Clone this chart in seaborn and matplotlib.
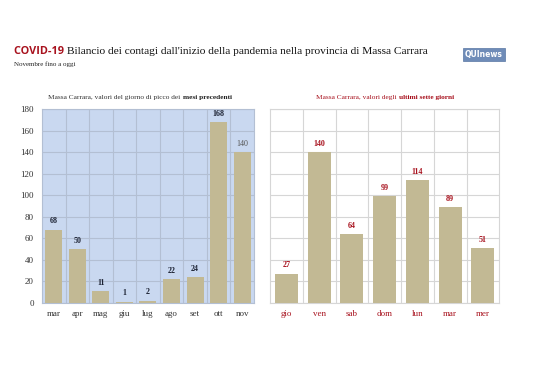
import matplotlib
matplotlib.use("Agg")
import matplotlib.pyplot as plt
import seaborn as sns
import pandas as pd

# data
months = ["mar", "apr", "mag", "giu", "lug", "ago", "set", "ott", "nov"]
month_peaks = [68, 50, 11, 1, 2, 22, 24, 168, 140]
days = ["gio", "ven", "sab", "dom", "lun", "mar", "mer"]
day_values = [27, 140, 64, 99, 114, 89, 51]

sns.set_theme(style="white")
plt.rcParams["font.family"] = ["Liberation Serif", "DejaVu Serif"]

BAR = "#c2b994"
RED = "#a8121e"
NAVY = "#1c2233"

fig = plt.figure(figsize=(5.38, 3.8), dpi=100)
ax1 = fig.add_axes([0.078, 0.203, 0.394, 0.510])
ax2 = fig.add_axes([0.502, 0.203, 0.426, 0.510])

df1 = pd.DataFrame({"mese": months, "casi": month_peaks})
df2 = pd.DataFrame({"giorno": days, "casi": day_values})

sns.barplot(data=df1, x="mese", y="casi", color=BAR, width=0.72, saturation=1,
            linewidth=0, ax=ax1, zorder=3)
sns.barplot(data=df2, x="giorno", y="casi", color=BAR, width=0.70, saturation=1,
            linewidth=0, ax=ax2, zorder=3)

for ax, n, bg, gc in [(ax1, len(months), "#c9d8f0", "#b3bfd3"), (ax2, len(days), "white", "#d6d6d6")]:
    ax.set_facecolor(bg)
    ax.set_ylim(0, 180)
    ax.set_xlim(-0.5, n - 0.5)
    ax.set_yticks(range(0, 181, 20))
    ax.set_xticks([i + 0.5 for i in range(n - 1)], minor=True)
    ax.grid(axis="y", which="major", color=gc, lw=0.8, zorder=0)
    ax.grid(axis="x", which="minor", color=gc, lw=0.8, zorder=0)
    ax.set_xlabel("")
    ax.set_ylabel("")
    ax.tick_params(axis="both", which="both", length=0, labelsize=6.5, pad=5)
    for s in ax.spines.values():
        s.set_color(gc)
        s.set_linewidth(0.8)

ax1.tick_params(axis="y", labelsize=6.5, pad=6, colors="#333333")
ax1.tick_params(axis="x", colors="#333333")
ax2.tick_params(axis="y", labelleft=False)
ax2.tick_params(axis="x", colors=RED)

for i, v in enumerate(month_peaks):
    last = i == len(month_peaks) - 1
    ax1.text(i, v + 4, str(v), ha="center", va="bottom", fontsize=5.8,
             fontweight="normal" if last else "bold", color="#555555" if last else NAVY)
for i, v in enumerate(day_values):
    ax2.text(i, v + 4, str(v), ha="center", va="bottom", fontsize=5.8, fontweight="bold", color=RED)

fig.canvas.draw()
renderer = fig.canvas.get_renderer()


def run_text(x, y, parts, ha="left"):
    # draw consecutive text pieces with different styles on one line
    items = []
    for txt, kw in parts:
        t = fig.text(x, y, txt, va="baseline", **kw)
        items.append(t)
    widths = []
    for t in items:
        bb = t.get_window_extent(renderer)
        widths.append(bb.width / fig.bbox.width)
    total = sum(widths)
    start = x - total / 2 if ha == "center" else x
    for t, w in zip(items, widths):
        t.set_x(start)
        start += w


run_text(14 / 538, 1 - 54 / 380, [
    ("COVID-19 ", dict(fontsize=7.8, fontweight="bold", color=RED, family=["Open Sans", "DejaVu Sans"])),
    ("Bilancio dei contagi dall'inizio della pandemia nella provincia di Massa Carrara",
     dict(fontsize=8.2, color="#111111")),
])
fig.text(14 / 538, 1 - 66 / 380, "Novembre fino a oggi", fontsize=5, color="#222222", va="baseline")

run_text(140 / 538, 1 - 99 / 380, [
    ("Massa Carrara, valori del giorno di picco dei ", dict(fontsize=5.3, color="#333333")),
    ("mesi precedenti", dict(fontsize=5.3, fontweight="bold", color="#222222")),
], ha="center")
run_text(385 / 538, 1 - 99 / 380, [
    ("Massa Carrara, valori degli ", dict(fontsize=5.3, color=RED)),
    ("ultimi sette giorni", dict(fontsize=5.3, fontweight="bold", color=RED)),
], ha="center")

# small logo box
fig.text(484 / 538, 1 - 57 / 380, "QUInews", ha="center", va="baseline", fontsize=5.5,
         fontweight="bold", color="white", family=["DejaVu Sans"],
         bbox=dict(boxstyle="square,pad=0.3", fc="#6f8cb8", ec="#5a77a3", lw=0.5))

fig.savefig("out.png", dpi=100, facecolor="white")
